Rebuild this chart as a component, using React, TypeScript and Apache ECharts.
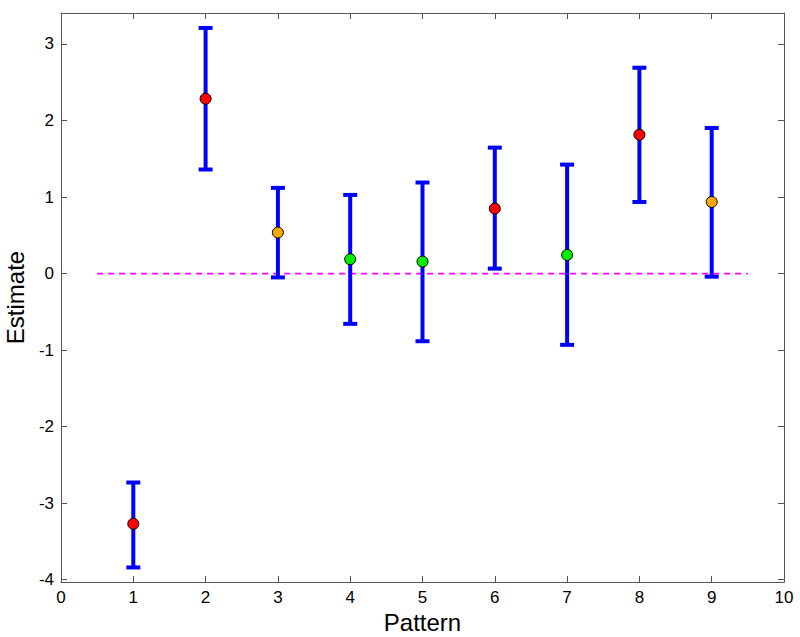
import React, { useEffect, useRef } from "react";
import * as echarts from "echarts";

const patterns = [1, 2, 3, 4, 5, 6, 7, 8, 9];
const estimates = [-3.27, 2.285, 0.536, 0.187, 0.157, 0.849, 0.244, 1.815, 0.936];
const lowerBounds = [-3.84, 1.36, -0.05, -0.657, -0.884, 0.065, -0.931, 0.936, -0.04];
const upperBounds = [-2.73, 3.21, 1.12, 1.028, 1.19, 1.646, 1.424, 2.69, 1.903];
const pointColors = ["#ff0000", "#ff0000", "#f7a800", "#00ee00", "#00ee00", "#ff0000", "#00ee00", "#ff0000", "#f7a800"];
const xTicks = [0, 1, 2, 3, 4, 5, 6, 7, 8, 9, 10];
const yTicks = [-4, -3, -2, -1, 0, 1, 2, 3];
const refLine = [[0.5, 0], [9.5, 0]];

const FONT = "'Liberation Sans', Arial, Helvetica, sans-serif";
const AXIS_COLOR = "#555555";

export default function App() {
  const ref = useRef<HTMLDivElement>(null);

  useEffect(() => {
    if (!ref.current) return;
    const chart = echarts.init(ref.current, null, { renderer: "svg" });

    const errData = patterns.map((p, i) => [p, lowerBounds[i], upperBounds[i]]);
    const pointData = patterns.map((p, i) => ({
      value: [p, estimates[i]],
      itemStyle: { color: pointColors[i], borderColor: "#000", borderWidth: 1, opacity: 1 },
    }));

    const baseX = {
      type: "value" as const,
      min: 0,
      max: 10,
      interval: 1,
      splitLine: { show: false },
      axisLine: { show: true, onZero: false, lineStyle: { color: AXIS_COLOR, width: 1 } },
      axisTick: { show: true, inside: true, length: 6, lineStyle: { color: AXIS_COLOR } },
    };
    const yMin = -4.03;
    const yMax = 3.405;
    const baseY = {
      type: "value" as const,
      min: yMin,
      max: yMax,
      splitLine: { show: false },
      axisLine: { show: true, onZero: false, lineStyle: { color: AXIS_COLOR, width: 1 } },
      axisTick: { show: true, inside: true, length: 6, customValues: yTicks, lineStyle: { color: AXIS_COLOR } },
    };

    chart.setOption({
      animation: false,
      backgroundColor: "#ffffff",
      grid: { left: 61, right: 16, top: 13, bottom: 55, containLabel: false, outerBoundsMode: "none" },
      xAxis: [
        {
          ...baseX,
          position: "bottom",
          name: "Pattern",
          nameLocation: "middle",
          nameGap: 21,
          nameTextStyle: { fontFamily: FONT, fontSize: 24, color: "#000" },
          axisLabel: { show: true, margin: 7, fontFamily: FONT, fontSize: 17, color: "#000", customValues: xTicks },
        },
        {
          ...baseX,
          position: "top",
          axisLabel: { show: false },
        },
      ],
      yAxis: [
        {
          ...baseY,
          position: "left",
          name: "Estimate",
          nameLocation: "middle",
          nameGap: 32,
          nameRotate: 90,
          nameTextStyle: { fontFamily: FONT, fontSize: 24, color: "#000" },
          axisLabel: { show: true, margin: 7, fontFamily: FONT, fontSize: 17, color: "#000", customValues: yTicks },
        },
        {
          ...baseY,
          position: "right",
          axisLabel: { show: false },
        },
      ],
      series: [
        {
          type: "custom",
          data: refLine,
          z: 1,
          silent: true,
          renderItem: (params: any, api: any) => {
            if (params.dataIndex !== 0) return null;
            const a = api.coord([refLine[0][0], refLine[0][1]]);
            const b = api.coord([refLine[1][0], refLine[1][1]]);
            return {
              type: "line",
              shape: { x1: a[0], y1: a[1], x2: b[0], y2: b[1] },
              style: { stroke: "#ff00ff", lineWidth: 1.7, lineDash: [6, 5], opacity: 1 },
            };
          },
        },
        {
          type: "custom",
          data: errData,
          z: 2,
          renderItem: (params: any, api: any) => {
            const x = api.value(0);
            const lo = api.coord([x, api.value(1)]);
            const hi = api.coord([x, api.value(2)]);
            const half = 7;
            const style = { stroke: "#0000ff", lineWidth: 4 };
            return {
              type: "group",
              children: [
                { type: "line", shape: { x1: lo[0], y1: lo[1], x2: hi[0], y2: hi[1] }, style },
                { type: "line", shape: { x1: lo[0] - half, y1: lo[1], x2: lo[0] + half, y2: lo[1] }, style },
                { type: "line", shape: { x1: hi[0] - half, y1: hi[1], x2: hi[0] + half, y2: hi[1] }, style },
              ],
            };
          },
        },
        {
          type: "scatter",
          data: pointData,
          symbol: "circle",
          symbolSize: 11,
          z: 3,
        },
      ],
    });

    return () => chart.dispose();
  }, []);

  return (
    <div
      ref={ref}
      style={{ position: "fixed", left: 0, top: 0, width: 800, height: 637 }}
    />
  );
}
